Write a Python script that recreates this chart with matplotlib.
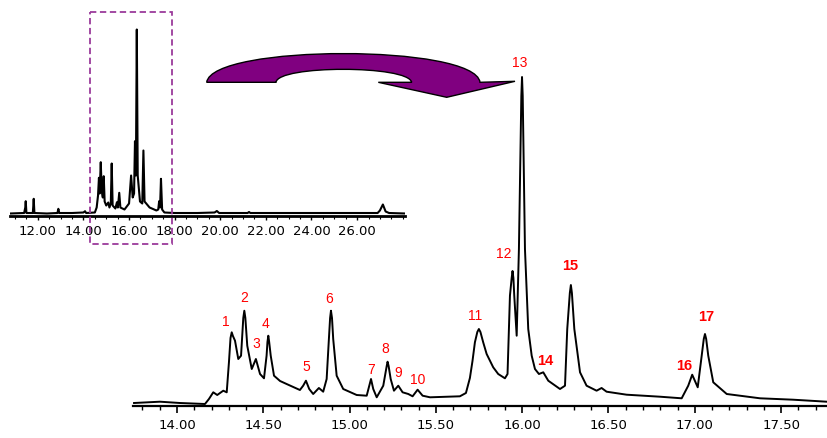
import numpy as np
import matplotlib
matplotlib.use("Agg")
import matplotlib.pyplot as plt
from matplotlib.path import Path
from matplotlib.patches import PathPatch, Rectangle
from matplotlib.ticker import MultipleLocator, FormatStrFormatter

# ---------------- data ----------------
# Zoomed chromatogram (retention time, min ; intensity, arbitrary units)
main_rt = [13.751, 13.901, 14.017, 14.162, 14.185, 14.210, 14.233, 14.268, 14.288,
           14.301, 14.310, 14.317, 14.324, 14.336, 14.355, 14.371, 14.384, 14.390, 14.396,
           14.407, 14.433, 14.457, 14.481, 14.504, 14.519, 14.524, 14.529, 14.534, 14.543,
           14.562, 14.597, 14.635, 14.712, 14.731, 14.747, 14.766, 14.789, 14.822, 14.847,
           14.867, 14.880, 14.887, 14.892, 14.898, 14.905, 14.925, 14.963, 15.041, 15.099,
           15.114, 15.124, 15.137, 15.157, 15.195, 15.215, 15.220, 15.226, 15.238, 15.257,
           15.282, 15.307, 15.340, 15.365, 15.394, 15.423, 15.466, 15.639, 15.674, 15.697,
           15.712, 15.726, 15.740, 15.749, 15.758, 15.774, 15.794, 15.832, 15.861, 15.900,
           15.915, 15.929, 15.939, 15.944, 15.949, 15.954, 15.968, 15.981, 15.995, 15.999,
           16.003, 16.016, 16.035, 16.055, 16.074, 16.097, 16.122, 16.151, 16.219, 16.248,
           16.261, 16.276, 16.282, 16.288, 16.302, 16.335, 16.373, 16.431, 16.460, 16.489,
           16.605, 16.798, 16.924, 16.962, 16.985, 17.017, 17.040, 17.052, 17.059, 17.066,
           17.078, 17.107, 17.185, 17.378, 17.570, 17.764]
main_int = [3.0, 4.3, 3.0, 2.0, 7.0, 13.7, 11.0, 15.3, 13.7,
            44.0, 68.0, 73.7, 70.0, 65.3, 47.0, 50.3, 88.0, 95.3, 88.0,
            60.3, 37.0, 47.0, 32.0, 27.7, 50.3, 64.0, 70.3, 64.0, 50.3,
            30.3, 25.0, 22.0, 16.0, 20.3, 25.3, 17.0, 12.0, 18.0, 14.3,
            27.0, 67.0, 88.0, 95.3, 88.0, 67.0, 30.3, 17.0, 11.0, 10.3,
            20.3, 27.0, 17.0, 8.7, 20.3, 40.0, 44.3, 40.0, 27.0, 15.3,
            20.3, 13.7, 12.0, 9.7, 16.3, 10.3, 8.7, 9.7, 13.0, 28.0,
            45.0, 63.7, 74.0, 77.0, 74.0, 63.7, 52.0, 38.7, 32.0, 27.7,
            32.0, 110.3, 128.0, 135.0, 128.0, 110.3, 70.3, 157.0, 310.0, 329.0,
            310.0, 157.0, 77.0, 50.3, 37.0, 32.0, 33.7, 25.3, 17.0, 20.3,
            77.0, 113.0, 121.0, 113.0, 77.0, 33.7, 20.3, 15.3, 18.0, 14.3,
            11.3, 9.3, 7.7, 20.3, 31.3, 18.7, 50.3, 67.0, 72.0, 67.0,
            50.3, 23.7, 12.0, 7.7, 6.3, 4.3]

# Peak labels of the zoomed chromatogram
peak_labels = [str(i) for i in range(1, 18)]
peak_rt = [14.317, 14.390, 14.457, 14.529, 14.747, 14.892, 15.124, 15.220, 15.282,
           15.394, 15.749, 15.944, 15.999, 16.122, 16.282, 16.985, 17.059]
peak_int = [73.7, 95.3, 47.0, 70.3, 25.3, 95.3, 27.0, 44.3, 20.3,
            16.3, 77.0, 135.0, 329.0, 33.7, 121.0, 31.3, 72.0]
peak_bold = [False] * 13 + [True] * 4

# Full chromatogram (inset)
inset_rt = [10.80, 11.40, 11.45, 11.47, 11.50, 11.78, 11.80, 11.82, 11.85, 12.40,
            12.86, 12.90, 12.94, 13.50, 14.00, 14.07, 14.12, 14.50, 14.58, 14.64,
            14.68, 14.71, 14.76, 14.80, 14.85, 14.89, 14.93, 15.00, 15.09, 15.14,
            15.20, 15.24, 15.28, 15.40, 15.47, 15.51, 15.57, 15.62, 15.80, 16.00,
            16.09, 16.16, 16.22, 16.26, 16.30, 16.34, 16.38, 16.48, 16.58, 16.63,
            16.68, 16.90, 17.20, 17.28, 17.32, 17.36, 17.40, 17.45, 17.55, 18.00,
            19.00, 19.75, 19.85, 19.95, 21.20, 21.26, 21.32, 26.90, 27.00, 27.13,
            27.25, 27.40, 28.10]
inset_int = [2.0, 2.5, 8.0, 14.3, 2.5, 2.5, 9.0, 16.7, 2.5, 2.0,
             2.5, 6.7, 2.5, 2.5, 3.0, 4.3, 2.5, 3.0, 8.0, 20.0,
             37.7, 22.0, 53.3, 25.0, 18.0, 39.3, 14.0, 10.0, 13.0, 8.0,
             12.0, 52.0, 10.0, 7.0, 13.3, 8.0, 22.7, 8.0, 6.0, 12.0,
             40.0, 18.0, 22.0, 74.3, 40.0, 186.0, 40.0, 14.0, 12.0, 65.0,
             14.0, 8.0, 5.0, 6.0, 14.3, 8.0, 36.7, 6.0, 3.0, 2.5,
             2.5, 3.0, 4.5, 2.5, 2.5, 3.5, 2.5, 2.5, 5.0, 11.0,
             4.0, 2.5, 2.0]

# zoom window marked on the full chromatogram
zoom_window = (14.28, 17.90)

main_ticks = [14.0, 14.5, 15.0, 15.5, 16.0, 16.5, 17.0, 17.5]
inset_ticks = [12.0, 14.0, 16.0, 18.0, 20.0, 22.0, 24.0, 26.0]

# ---------------- figure ----------------
W, H = 827, 439
fig = plt.figure(figsize=(W / 100, H / 100), dpi=100)

def px_axes(x0, y0_top, x1, y1_top):
    return fig.add_axes([x0 / W, 1 - y1_top / H, (x1 - x0) / W, (y1_top - y0_top) / H])

tick_font = dict(family="DejaVu Sans", size=9.5)

# ---- main (zoomed) chromatogram ----
ax = px_axes(133, 40, 827, 407)
ax.plot(main_rt, main_int, color="black", lw=1.4, solid_joinstyle="round")
ax.set_xlim(13.745, 17.766)
ax.set_ylim(0, 367)
for s in ("left", "right", "top"):
    ax.spines[s].set_visible(False)
ax.spines["bottom"].set_linewidth(1.6)
ax.set_yticks([])
ax.set_xticks(main_ticks)
ax.xaxis.set_major_formatter(FormatStrFormatter("%.2f"))
ax.xaxis.set_minor_locator(MultipleLocator(0.1))
ax.tick_params(axis="x", which="major", length=5, width=1.2, pad=4)
ax.tick_params(axis="x", which="minor", length=3, width=1.0)
for lab in ax.get_xticklabels():
    lab.set_fontfamily(tick_font["family"])
    lab.set_fontsize(tick_font["size"])
ax.patch.set_alpha(0)

# label offsets (in pixels, relative to the apex)
lab_dx = [-6, 0, 0, -3, 0, -2, 0, -2, 0, 0, -4, -9, -2, 2, -1, -8, 1]
lab_dy = [11, 14, 16, 13, 15, 13, 10, 14, 14, 11, 14, 18, 15, 12, 20, 10, 18]
for lbl, rt, it, b, dx, dy in zip(peak_labels, peak_rt, peak_int, peak_bold, lab_dx, lab_dy):
    ax.annotate(lbl, (rt, it), xytext=(dx * 0.72, dy * 0.72), textcoords="offset points",
                ha="center", va="center", color="#ff0000", fontsize=10 if not b else 10.5,
                fontweight="bold" if b else "normal", family="Liberation Sans",
                annotation_clip=False)

# ---- inset (full) chromatogram ----
ax2 = px_axes(10, 10, 405, 216.5)
ax2.plot(inset_rt, inset_int, color="black", lw=1.5, solid_joinstyle="round")
ax2.set_xlim(10.78, 28.1)
ax2.set_ylim(0, 206.5)
for s in ("left", "right", "top"):
    ax2.spines[s].set_visible(False)
ax2.spines["bottom"].set_linewidth(2.0)
ax2.set_yticks([])
ax2.set_xticks(inset_ticks)
ax2.xaxis.set_major_formatter(FormatStrFormatter("%.2f"))
ax2.xaxis.set_minor_locator(MultipleLocator(0.5))
ax2.tick_params(axis="x", which="major", length=3, width=1.0, pad=3)
ax2.tick_params(axis="x", which="minor", length=2, width=0.8)
for lab in ax2.get_xticklabels():
    lab.set_fontfamily(tick_font["family"])
    lab.set_fontsize(tick_font["size"])
ax2.patch.set_alpha(0)

# ---- overlay for the dashed zoom box and the arrow (pixel coordinates) ----
ov = fig.add_axes([0, 0, 1, 1], zorder=5)
ov.set_xlim(0, W)
ov.set_ylim(H, 0)
ov.axis("off")
ov.patch.set_alpha(0)

# zoom box: x from the inset data scale
x_left = ax2.transData.transform((zoom_window[0], 0))[0]
x_right = ax2.transData.transform((zoom_window[1], 0))[0]
ov.add_patch(Rectangle((x_left, 13), x_right - x_left, 232, fill=False,
                       edgecolor="#9b3a9b", lw=1.3, linestyle=(0, (3.5, 2))))

# curved arrow
verts = [(206.7, 83.3),
         (212, 45), (475, 45), (480, 83.3),
         (515, 82.3),
         (446.7, 98.3),
         (378.3, 83.3),
         (411.7, 83.3),
         (408, 66), (278, 66), (276, 83.3),
         (206.7, 83.3)]
codes = [Path.MOVETO,
         Path.CURVE4, Path.CURVE4, Path.CURVE4,
         Path.LINETO, Path.LINETO, Path.LINETO, Path.LINETO,
         Path.CURVE4, Path.CURVE4, Path.CURVE4,
         Path.CLOSEPOLY]
ov.add_patch(PathPatch(Path(verts, codes), facecolor="#800080", edgecolor="black", lw=1.0))

fig.savefig("out.png", dpi=100)
